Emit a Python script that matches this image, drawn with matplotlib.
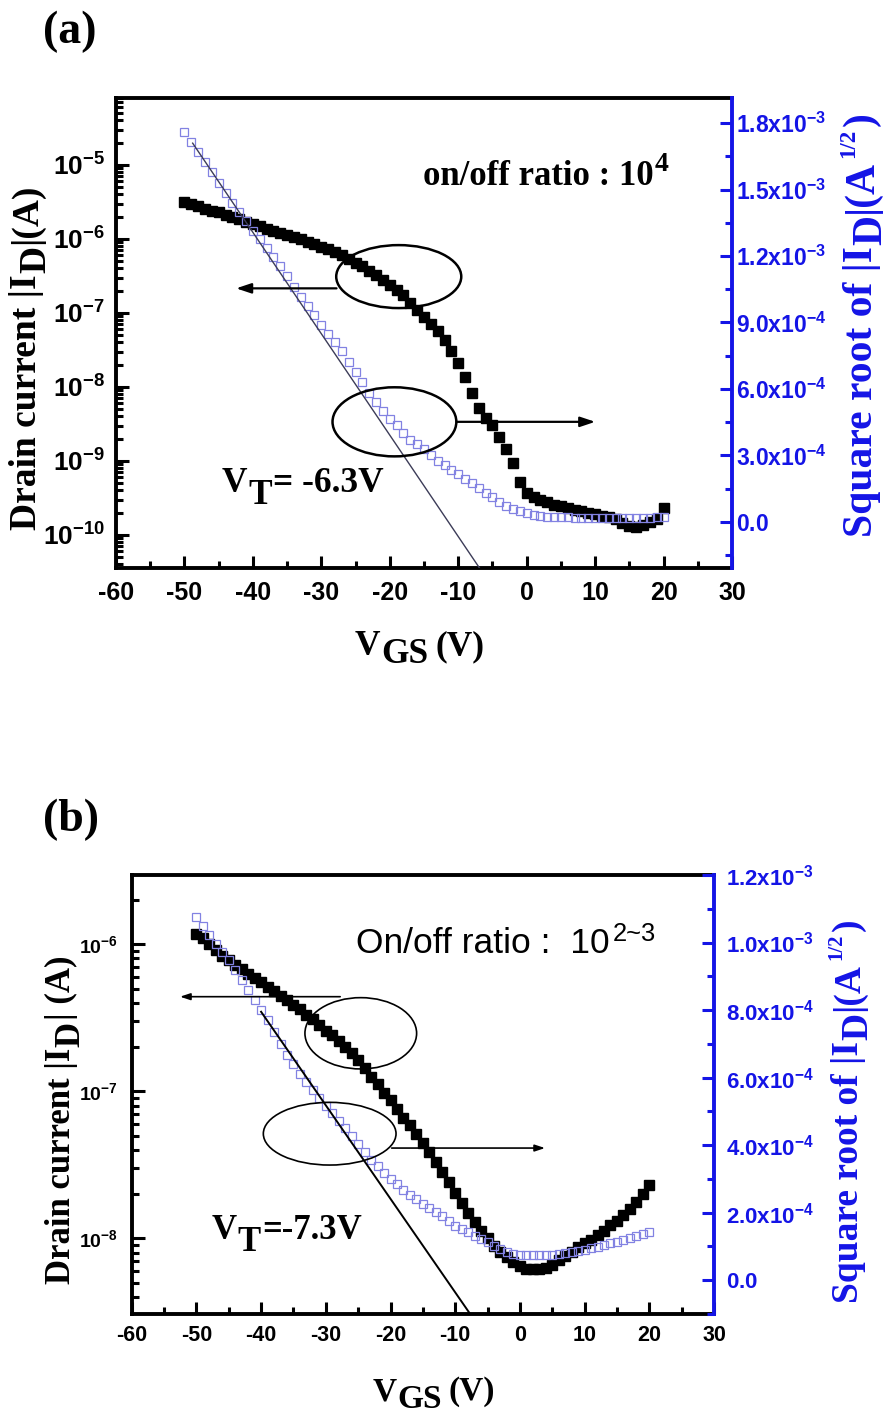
import numpy as np
import matplotlib
matplotlib.use("Agg")
import matplotlib.pyplot as plt
from matplotlib.patches import Ellipse
from matplotlib.ticker import MultipleLocator, LogLocator, NullFormatter, FuncFormatter
from matplotlib.transforms import IdentityTransform

# gate sweep, 1 V steps
vgs = np.arange(-50, 21)

# panel (a): log10 |I_D| (A) and sqrt|I_D| (1e-4 A^1/2)
log_id_a = [-5.50, -5.53, -5.56, -5.59, -5.62, -5.64, -5.67, -5.70, -5.73, -5.77,
            -5.80, -5.83, -5.86, -5.89, -5.92, -5.94, -5.97, -6.00, -6.04, -6.07,
            -6.11, -6.14, -6.18, -6.22, -6.27, -6.32, -6.37, -6.43, -6.49, -6.55,
            -6.62, -6.69, -6.76, -6.86, -6.96, -7.06, -7.15, -7.25, -7.36, -7.51,
            -7.68, -7.86, -8.08, -8.28, -8.42, -8.51, -8.67, -8.84, -9.03, -9.29,
            -9.43, -9.49, -9.53, -9.56, -9.59, -9.61, -9.64, -9.66, -9.68, -9.70,
            -9.72, -9.74, -9.76, -9.79, -9.84, -9.88, -9.89, -9.87, -9.83, -9.78,
            -9.64]
sqrt_id_a = [17.6, 17.15, 16.7, 16.25, 15.8, 15.3, 14.85, 14.4, 14.0, 13.6,
             13.15, 12.75, 12.35, 11.95, 11.55, 11.1, 10.6, 10.15, 9.75, 9.35,
             8.9, 8.5, 8.1, 7.7, 7.2, 6.75, 6.3, 5.8, 5.4, 5.0,
             4.65, 4.35, 4.0, 3.7, 3.5, 3.3, 3.0, 2.75, 2.55, 2.35,
             2.15, 1.95, 1.73, 1.52, 1.3, 1.1, 0.9, 0.72, 0.58, 0.47,
             0.38, 0.3, 0.26, 0.23, 0.21, 0.2, 0.2, 0.19, 0.19, 0.19,
             0.18, 0.18, 0.18, 0.18, 0.18, 0.18, 0.18, 0.19, 0.19, 0.2,
             0.2]
fit_a_v = [-48.8, -6.5]
fit_a_sqrt = [1.71e-3, -2.27e-4]

# panel (b)
log_id_b = [-5.93, -5.96, -6.00, -6.04, -6.08, -6.11, -6.14, -6.17, -6.20, -6.23,
            -6.26, -6.29, -6.32, -6.35, -6.38, -6.41, -6.44, -6.48, -6.51, -6.55,
            -6.59, -6.62, -6.66, -6.70, -6.74, -6.79, -6.84, -6.90, -6.95, -7.01,
            -7.06, -7.12, -7.18, -7.23, -7.29, -7.35, -7.41, -7.48, -7.55, -7.62,
            -7.69, -7.76, -7.83, -7.89, -7.95, -8.00, -8.05, -8.09, -8.13, -8.16,
            -8.19, -8.21, -8.21, -8.21, -8.20, -8.18, -8.15, -8.12, -8.09, -8.06,
            -8.03, -8.01, -7.98, -7.95, -7.91, -7.88, -7.84, -7.80, -7.75, -7.70,
            -7.64]
sqrt_id_b = [10.75, 10.5, 10.22, 9.97, 9.72, 9.47, 9.2, 8.9, 8.6, 8.3,
             8.0, 7.7, 7.35, 7.0, 6.67, 6.4, 6.12, 5.86, 5.62, 5.4,
             5.17, 4.94, 4.72, 4.5, 4.27, 4.04, 3.8, 3.57, 3.38, 3.19,
             3.01, 2.84, 2.67, 2.53, 2.4, 2.27, 2.14, 2.02, 1.89, 1.75,
             1.62, 1.52, 1.42, 1.32, 1.22, 1.12, 1.02, 0.93, 0.85, 0.79,
             0.76, 0.74, 0.74, 0.74, 0.75, 0.76, 0.78, 0.81, 0.84, 0.87,
             0.91, 0.95, 0.99, 1.04, 1.09, 1.14, 1.19, 1.24, 1.3, 1.36,
             1.42]
fit_b_v = [-40.0, -7.0]
fit_b_sqrt = [7.95e-4, -1.19e-4]

BLUE = "#1414e6"
OPEN_BLUE = "#8282e2"
SERIF = "Liberation Serif"
SANS = "Liberation Sans"

plt.rcParams["font.family"] = SANS
plt.rcParams["font.weight"] = "bold"
plt.rcParams["mathtext.fontset"] = "custom"
plt.rcParams["mathtext.rm"] = "Liberation Serif:bold"
plt.rcParams["mathtext.bf"] = "Liberation Serif:bold"
plt.rcParams["mathtext.it"] = "Liberation Serif:italic:bold"
plt.rcParams["mathtext.sf"] = "Liberation Sans:bold"

fig = plt.figure(figsize=(8.91, 14.14), dpi=100)
rend = fig.canvas.get_renderer()


def seg_text(ax, x, y, parts, size, rotation=0, **kw):
    # origin style labels: subscripts at full size, just shifted down
    x0, y0 = ax.transAxes.transform((x, y))
    k = fig.dpi / 72.0
    run = 0.0
    for s, drop, scale, gap in parts:
        run += gap * k
        if rotation == 90:
            pos = (x0 + drop * k, y0 + run)
        else:
            pos = (x0 + run, y0 - drop * k)
        t = ax.text(pos[0], pos[1], s, transform=IdentityTransform(),
                    rotation=rotation, rotation_mode="anchor", ha="left",
                    va="baseline", fontsize=size * scale, clip_on=False, **kw)
        bb = t.get_window_extent(rend)
        run += bb.height if rotation == 90 else bb.width


def log_fmt(v, pos):
    return r"$\mathsf{10^{%d}}$" % int(round(np.log10(v)))


def sci_fmt(v, pos):
    if abs(v) < 1e-12:
        return r"$\mathsf{0.0}$"
    e = int(np.floor(np.log10(abs(v)) + 1e-9))
    return r"$\mathsf{%.1fx10^{%d}}$" % (v / 10.0 ** e, e)


def panel(rect, log_lim, sq_lim, sq_step, xsize, lsize, rsize, xpad, lpad, rpad):
    ax = fig.add_axes(rect)
    ax2 = ax.twinx()
    ax.set_xlim(-60, 30)
    ax.set_yscale("log")
    ax.set_ylim(10 ** log_lim[0], 10 ** log_lim[1])
    ax2.set_ylim(*sq_lim)

    ax.xaxis.set_major_locator(MultipleLocator(10))
    ax.xaxis.set_minor_locator(MultipleLocator(5))
    ax.xaxis.set_major_formatter(FuncFormatter(lambda v, p: "%d" % v))
    ax.yaxis.set_major_locator(LogLocator(base=10, numticks=20))
    ax.yaxis.set_minor_locator(LogLocator(base=10, subs=np.arange(2, 10), numticks=20))
    ax.yaxis.set_minor_formatter(NullFormatter())
    ax.yaxis.set_major_formatter(FuncFormatter(log_fmt))
    ax2.yaxis.set_major_locator(MultipleLocator(sq_step))
    ax2.yaxis.set_minor_locator(MultipleLocator(sq_step / 2))
    ax2.yaxis.set_major_formatter(FuncFormatter(sci_fmt))

    ax.tick_params(which="both", direction="in", top=False, right=False, width=2.2)
    ax.tick_params(which="major", length=9)
    ax.tick_params(which="minor", length=5)
    ax.tick_params(axis="x", labelsize=xsize, pad=xpad)
    ax.tick_params(axis="y", labelsize=lsize, pad=lpad)
    ax2.tick_params(which="both", direction="in", colors=BLUE, width=2.2)
    ax2.tick_params(which="major", length=9, labelsize=rsize, pad=rpad)
    ax2.tick_params(which="minor", length=5)

    for side in ["left", "bottom", "top"]:
        ax.spines[side].set_linewidth(2.8)
        ax2.spines[side].set_visible(False)
    ax.spines["right"].set_visible(False)
    ax2.spines["right"].set_color(BLUE)
    ax2.spines["right"].set_linewidth(2.8)
    return ax, ax2


def ring(ax, cx, cy, w, h, lw):
    ax.add_patch(Ellipse((cx, cy), w, h, transform=ax.transAxes, fill=False,
                         ec="k", lw=lw, clip_on=False, zorder=5))


def pointer(ax, tail, head, lw, hl, hw):
    ax.annotate("", xy=head, xytext=tail, xycoords="axes fraction",
                arrowprops=dict(arrowstyle="-|>,head_length=%g,head_width=%g" % (hl, hw),
                                lw=lw, color="k", shrinkA=0, shrinkB=0), zorder=5)


serif_kw = dict(fontfamily=SERIF, fontweight="bold")

# ---------------- (a) ----------------
ax, ax2 = panel([116 / 891, 1 - 568 / 1414, 616 / 891, 470 / 1414],
                (-10.446, -4.095), (-2.09e-4, 1.914e-3), 3e-4,
                18, 19, 16.5, 9, 8, 3)
ax.plot(vgs, 10 ** np.array(log_id_a), "s", color="k", ms=6.8, zorder=3)
ax2.plot(vgs, np.array(sqrt_id_a) * 1e-4, "s", mfc="none", mec=OPEN_BLUE, mew=0.9, ms=5.8)
ax2.plot(fit_a_v, fit_a_sqrt, "-", color="#3c3c58", lw=1.0)

ring(ax2, 0.459, 0.620, 0.203, 0.134, 1.8)
pointer(ax2, (0.358, 0.595), (0.195, 0.595), 1.6, 0.9, 0.3)
ring(ax2, 0.452, 0.311, 0.201, 0.147, 1.8)
pointer(ax2, (0.553, 0.311), (0.778, 0.311), 1.6, 0.9, 0.3)

seg_text(ax2, 0.172, 0.162, [("V", 0, 1, 0), ("T", 9, 1, 0.5), ("= -6.3V", 0, 1, 1)], 25.5, **serif_kw)
seg_text(ax2, 0.498, 0.815, [("on/off ratio : 10", 0, 1, 0), ("4", -10, 0.8, 1)], 25, **serif_kw)
seg_text(ax2, 0.388, -0.185, [("V", 0, 1, 0), ("GS", 6, 1, 0.5), ("(V)", 0, 1, 5)], 25.5, **serif_kw)
seg_text(ax2, -0.130, 0.081, [("Drain current |I", 0, 1, 0), ("D", 7, 1, 1), ("|(A)", 0, 1, 1)],
         27, rotation=90, **serif_kw)
seg_text(ax2, 1.227, 0.066, [("Square root of |I", 0, 1, 0), ("D", 7, 1, 1), ("|(A", 0, 1, 1),
                             ("1/2", -13, 0.55, 2), (")", 0, 1, 2)],
         30, rotation=90, color=BLUE, **serif_kw)
fig.text(43 / 891, 1 - 32 / 1414, "(a)", ha="left", va="center", fontsize=33, **serif_kw)

# ---------------- (b) ----------------
bx, bx2 = panel([131.7 / 891, 1 - 1314 / 1414, 582.3 / 891, 439 / 1414],
                (-8.515, -5.529), (-1e-4, 1.2e-3), 2e-4,
                15.5, 14, 16, 8, 10, 9)
bx.plot(vgs, 10 ** np.array(log_id_b), "s", color="k", ms=6.6, zorder=3)
bx2.plot(vgs, np.array(sqrt_id_b) * 1e-4, "s", mfc="none", mec=OPEN_BLUE, mew=0.9, ms=5.6)
bx2.plot(fit_b_v, fit_b_sqrt, "-", color="k", lw=1.4)

ring(bx2, 0.3934, 0.6394, 0.1918, 0.1624, 1.2)
pointer(bx2, (0.358, 0.7228), (0.083, 0.7228), 1.2, 0.6, 0.2)
ring(bx2, 0.340, 0.4107, 0.2279, 0.1428, 1.2)
pointer(bx2, (0.4465, 0.378), (0.7098, 0.378), 1.2, 0.6, 0.2)

seg_text(bx2, 0.137, 0.171, [("V", 0, 1, 0), ("T", 9, 1, 0.5), ("=-7.3V", 0, 1, 1)], 25, **serif_kw)
seg_text(bx2, 0.386, 0.822, [("On/off ratio :  10", 0, 1, 0), ("2~3", -9, 0.72, 2)], 25.5,
         fontfamily=SANS, fontweight="normal")
seg_text(bx2, 0.413, -0.196, [("V", 0, 1, 0), ("GS", 6, 1, 0.5), ("(V)", 0, 1, 5)], 24, **serif_kw)
seg_text(bx2, -0.106, 0.068, [("Drain current |I", 0, 1, 0), ("D", 7, 1, 1), ("| (A)", 0, 1, 1)],
         25, rotation=90, **serif_kw)
seg_text(bx2, 1.247, 0.025, [("Square root of |I", 0, 1, 0), ("D", 7, 1, 1), ("|(A", 0, 1, 1),
                             ("1/2", -12, 0.55, 2), (")", 0, 1, 2)],
         27, rotation=90, color=BLUE, **serif_kw)
fig.text(43 / 891, 1 - 820 / 1414, "(b)", ha="left", va="center", fontsize=33, **serif_kw)

fig.savefig("out.png", dpi=100, facecolor="white")
